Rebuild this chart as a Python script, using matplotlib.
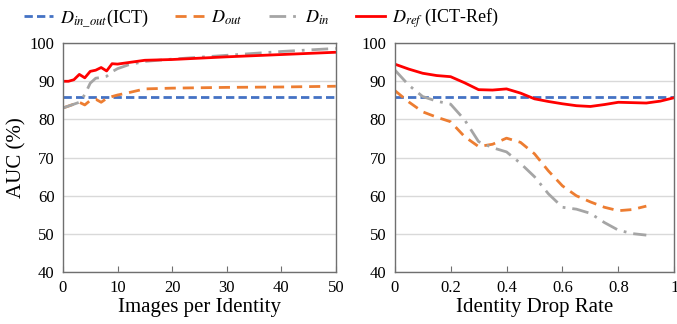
import matplotlib
matplotlib.use("Agg")
import matplotlib.pyplot as plt
import numpy as np

plt.rcParams['font.family'] = ['Liberation Serif', 'DejaVu Serif']
plt.rcParams['mathtext.fontset'] = 'stix'

# left panel: images per identity
x_img_ref = [0, 1, 2, 3, 4, 5, 6, 7, 8, 9, 10, 12, 15, 20, 30, 40, 50]
ref_img = [90.0, 90.0, 90.4, 91.8, 90.9, 92.6, 92.9, 93.6, 92.7, 94.6, 94.5, 94.9, 95.5, 95.7, 96.4, 97.0, 97.6]
x_img = [0, 1, 2, 3, 4, 5, 6, 7, 8, 9, 10, 12, 15, 20, 30, 40, 50]
in_img = [83.0, 83.5, 84.0, 84.5, 86.5, 89.5, 90.8, 91.0, 91.3, 92.5, 93.3, 94.3, 95.2, 95.8, 96.8, 97.8, 98.6]
out_img = [83.0, 83.5, 84.0, 84.5, 83.8, 85.0, 85.3, 84.5, 85.5, 86.0, 86.4, 87.0, 88.0, 88.2, 88.4, 88.5, 88.7]
ict_img = [85.8, 85.8]
x_ict_img = [0, 50]

# right panel: identity drop rate
x_drop_ref = [0, 0.05, 0.1, 0.15, 0.2, 0.25, 0.3, 0.35, 0.4, 0.45, 0.5, 0.55, 0.6, 0.65, 0.7, 0.75, 0.8, 0.85, 0.9, 0.95, 1.0]
ref_drop = [94.5, 93.2, 92.1, 91.5, 91.2, 89.6, 87.8, 87.7, 88.0, 86.9, 85.4, 84.7, 84.1, 83.6, 83.4, 83.9, 84.5, 84.4, 84.3, 84.8, 85.7]
x_drop = [0, 0.05, 0.1, 0.15, 0.2, 0.25, 0.3, 0.35, 0.4, 0.45, 0.5, 0.55, 0.6, 0.65, 0.7, 0.75, 0.8, 0.85, 0.9]
out_drop = [87.6, 84.6, 82.0, 80.6, 79.4, 75.5, 72.9, 73.5, 75.1, 74.0, 71.0, 66.5, 62.6, 60.0, 58.4, 57.0, 56.1, 56.4, 57.3]
in_drop = [93.0, 89.0, 86.0, 84.8, 84.0, 79.9, 74.2, 72.6, 71.5, 68.5, 65.0, 60.5, 57.0, 56.5, 55.4, 53.0, 51.0, 50.1, 49.7]
x_ict_drop = [0, 1]
ict_drop = [85.8, 85.8]

c_ict = '#4472C4'
c_out = '#ED7D31'
c_in = '#A5A5A5'
c_ref = '#FF0000'
spine_c = '#6f6f6f'

fig = plt.figure(figsize=(6.77, 3.24), dpi=100)
ax1 = fig.add_axes([0.093, 0.160, 0.403, 0.707])
ax2 = fig.add_axes([0.583, 0.160, 0.413, 0.707])

for ax in (ax1, ax2):
    ax.set_ylim(40, 100)
    ax.set_yticks([40, 50, 60, 70, 80, 90, 100])
    ax.grid(axis='y', color='#d9d9d9', linewidth=1)
    ax.set_axisbelow(True)
    for s in ax.spines.values():
        s.set_color(spine_c)
        s.set_linewidth(1.0)
    ax.tick_params(axis='x', direction='in', length=4, color=spine_c, labelsize=12, pad=6)
    ax.tick_params(axis='y', length=0, labelsize=12, pad=6)

l1, = ax1.plot(x_ict_img, ict_img, '--', color=c_ict, lw=2, dashes=(3, 1.5))
l2, = ax1.plot(x_img, out_img, '--', color=c_out, lw=2, dashes=(4, 2.5))
l3, = ax1.plot(x_img, in_img, '-.', color=c_in, lw=2, dashes=(6, 2.5, 1, 2.5))
l4, = ax1.plot(x_img_ref, ref_img, '-', color=c_ref, lw=2)
ax1.set_xlim(0, 50)
ax1.set_xticks([0, 10, 20, 30, 40, 50])
ax1.set_xlabel('Images per Identity', fontsize=15, labelpad=1)
ax1.set_ylabel('AUC (%)', fontsize=15, labelpad=2)

ax2.plot(x_ict_drop, ict_drop, '--', color=c_ict, lw=2, dashes=(3, 1.5))
ax2.plot(x_drop, out_drop, '--', color=c_out, lw=2, dashes=(4, 2.5))
ax2.plot(x_drop, in_drop, '-.', color=c_in, lw=2, dashes=(6, 2.5, 1, 2.5))
ax2.plot(x_drop_ref, ref_drop, '-', color=c_ref, lw=2)
ax2.set_xlim(0, 1)
ax2.set_xticks([0, 0.2, 0.4, 0.6, 0.8, 1])
ax2.set_xticklabels(['0', '0.2', '0.4', '0.6', '0.8', '1'])
ax2.set_xlabel('Identity Drop Rate', fontsize=15, labelpad=1)

fig.legend([l1, l2, l3, l4],
           [r'$D_{in\_out}$(ICT)', r'$D_{out}$', r'$D_{in}$', r'$D_{ref}$ (ICT-Ref)'],
           loc='upper left', bbox_to_anchor=(0.012, 1.03), ncol=4, frameon=False,
           fontsize=13, handlelength=1.6, columnspacing=1.45, handletextpad=0.4)

fig.savefig('out.png', dpi=100)
